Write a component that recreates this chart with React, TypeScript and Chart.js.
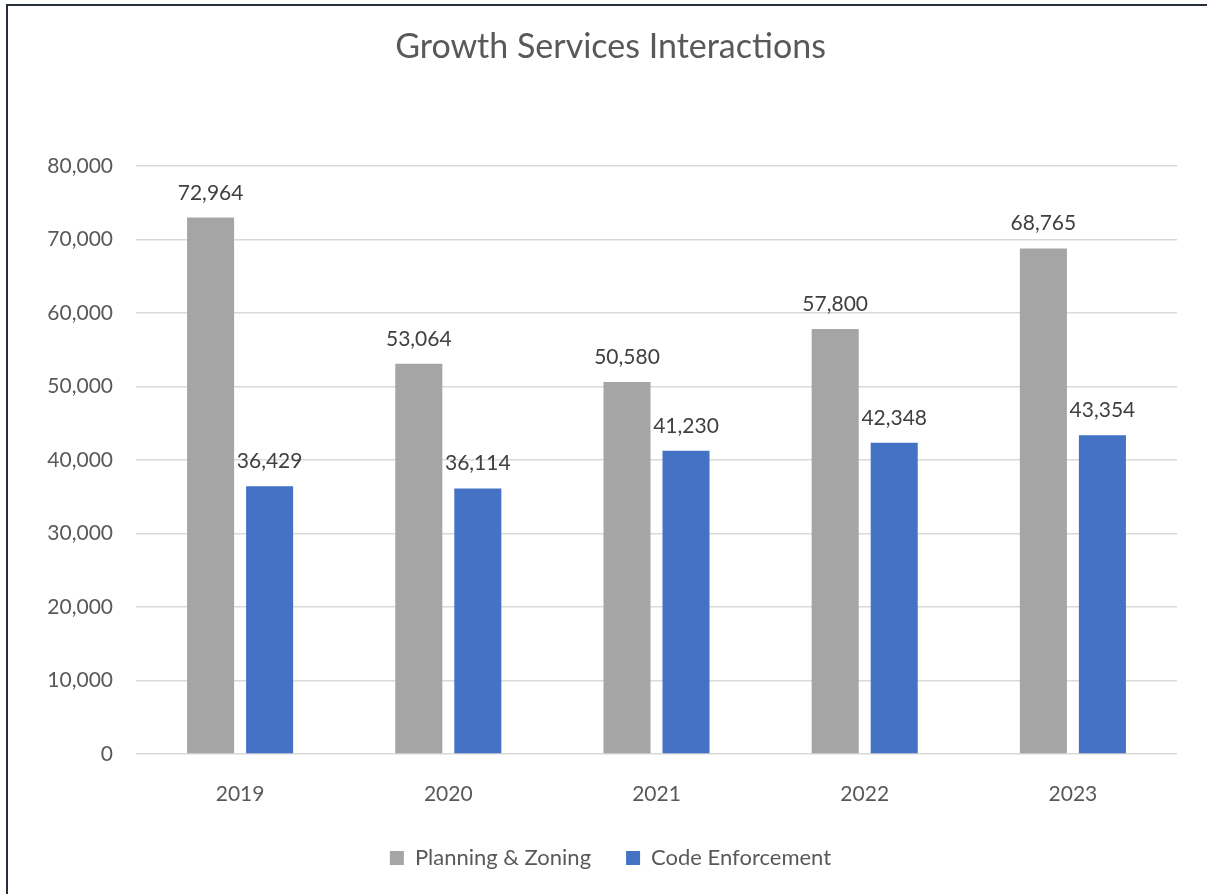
import React, { useEffect, useRef } from "react";
import { Chart, registerables } from "chart.js";

Chart.register(...registerables);

const categories = ["2019", "2020", "2021", "2022", "2023"];
const planningZoning = [72964, 53064, 50580, 57800, 68765];
const codeEnforcement = [36429, 36114, 41230, 42348, 43354];
const seriesNames = ["Planning & Zoning", "Code Enforcement"];
const yTicks = [0, 10000, 20000, 30000, 40000, 50000, 60000, 70000, 80000];
const titleText = "Growth Services Interactions";

const FONT = "Lato, 'Open Sans', sans-serif";

const fmt = (v: number) => v.toLocaleString("en-US");

const dataLabelPlugin = {
  id: "dataLabels",
  afterDatasetsDraw(chart: any) {
    const ctx = chart.ctx;
    ctx.save();
    ctx.font = `21px ${FONT}`;
    ctx.fillStyle = "#404040";
    ctx.textAlign = "center";
    ctx.textBaseline = "alphabetic";
    chart.data.datasets.forEach((ds: any, di: number) => {
      const meta = chart.getDatasetMeta(di);
      meta.data.forEach((el: any, i: number) => {
        ctx.fillText(fmt(ds.data[i]), el.x, el.y - 18);
      });
    });
    ctx.restore();
  },
};

export default function App() {
  const ref = useRef<HTMLCanvasElement | null>(null);

  useEffect(() => {
    if (!ref.current) return;
    const chart = new Chart(ref.current, {
      type: "bar",
      data: {
        labels: categories,
        datasets: [
          {
            label: seriesNames[0],
            data: planningZoning,
            backgroundColor: "#A5A5A5",
            categoryPercentage: 0.567,
            barPercentage: 0.797,
          },
          {
            label: seriesNames[1],
            data: codeEnforcement,
            backgroundColor: "#4472C4",
            categoryPercentage: 0.567,
            barPercentage: 0.797,
          },
        ],
      },
      options: {
        responsive: false,
        animation: false,
        devicePixelRatio: 1,
        layout: { padding: { left: 44, right: 30, top: 0, bottom: 15 } },
        plugins: {
          title: {
            display: true,
            text: titleText,
            color: "#595959",
            font: { family: FONT, size: 34, weight: "normal" },
            padding: { top: 27, bottom: 98 },
          },
          legend: {
            position: "bottom",
            labels: {
              color: "#595959",
              font: { family: FONT, size: 22 },
              boxWidth: 14,
              boxHeight: 14,
              padding: 35,
            },
          },
          tooltip: { enabled: false },
        },
        scales: {
          x: {
            grid: { display: false },
            border: { display: false },
            ticks: {
              color: "#595959",
              font: { family: FONT, size: 21 },
              padding: 20,
            },
            afterFit: (scale: any) => {
              scale.height = 58;
            },
          },
          y: {
            min: 0,
            max: 80000,
            afterBuildTicks: (scale: any) => {
              scale.ticks = yTicks.map((v) => ({ value: v }));
            },
            grid: { color: "#d9d9d9", lineWidth: 1.5, drawTicks: false },
            border: { display: false },
            ticks: {
              color: "#595959",
              font: { family: FONT, size: 21 },
              padding: 23,
              callback: (v: any) => fmt(Number(v)),
            },
            afterFit: (scale: any) => {
              scale.width = 92;
            },
          },
        },
      },
      plugins: [dataLabelPlugin],
    });
    return () => chart.destroy();
  }, []);

  return (
    <div
      style={{
        position: "absolute",
        left: 0,
        top: 0,
        width: 1207,
        height: 894,
        overflow: "hidden",
        background: "#ffffff",
      }}
    >
      <div
        style={{
          position: "absolute",
          left: 6,
          top: 4,
          width: 1300,
          height: 1000,
          borderTop: "2px solid #262e3a",
          borderLeft: "2px solid #262e3a",
          boxSizing: "border-box",
        }}
      />
      <canvas
        ref={ref}
        width={1207}
        height={894}
        style={{ position: "absolute", left: 0, top: 0, width: 1207, height: 894 }}
      />
    </div>
  );
}
